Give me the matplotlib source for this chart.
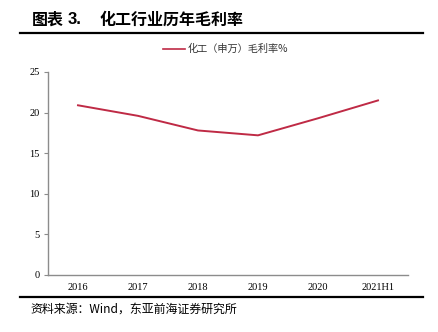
import matplotlib
matplotlib.use("Agg")
import matplotlib.pyplot as plt
from matplotlib.lines import Line2D

categories = ["2016", "2017", "2018", "2019", "2020", "2021H1"]
gross_margin = [20.9, 19.6, 17.8, 17.2, 19.3, 21.5]
y_ticks = [0, 5, 10, 15, 20, 25]
series_name = "化工（申万）毛利率%"
title_text = "化工行业历年毛利率"
source_text = "资料来源：Wind，东亚前海证券研究所"

CJK = ["Noto Sans CJK SC", "DejaVu Sans"]
SERIF = ["Liberation Serif", "DejaVu Serif"]

fig = plt.figure(figsize=(4.38, 3.32), dpi=100)
ax = fig.add_axes([48/438, 1-275/332, 360/438, 203/332])

x = list(range(len(categories)))
ax.plot(x, gross_margin, color="#bf2a45", lw=1.4)
ax.set_xlim(-0.5, len(categories) - 0.5)
ax.set_ylim(0, 25)
ax.set_yticks(y_ticks)
ax.set_xticks(x)
ax.set_xticklabels(categories, fontfamily=SERIF, fontsize=7.5)
ax.set_yticklabels([str(v) for v in y_ticks], fontfamily=SERIF, fontsize=7.5)
for s in ["top", "right"]:
    ax.spines[s].set_visible(False)
for s in ["left", "bottom"]:
    ax.spines[s].set_color("#8c8c8c")
    ax.spines[s].set_linewidth(1.0)
ax.tick_params(axis="y", length=3, width=0.8, color="#8c8c8c", pad=3)
ax.tick_params(axis="x", length=0, pad=6)

# Title
fig.text(32/438, 1-20/332, "图表", fontfamily=CJK, fontsize=11.5, fontweight="bold",
         va="center", ha="left")
fig.text(68/438, 1-20/332, "3.", fontfamily=["Liberation Sans"], fontsize=12, fontweight="bold",
         va="center", ha="left")
fig.text(100/438, 1-20/332, title_text, fontfamily=CJK, fontsize=11.5, fontweight="bold",
         va="center", ha="left")
fig.add_artist(Line2D([20/438, 423/438], [1-33/332, 1-33/332], color="black", lw=1.6,
                      transform=fig.transFigure))

# Legend
fig.add_artist(Line2D([163/438, 185/438], [1-49/332, 1-49/332], color="#bf2a45", lw=1.2,
                      transform=fig.transFigure))
fig.text(188/438, 1-49/332, series_name, fontfamily=CJK, fontsize=7.3, va="center", ha="left",
         color="#333333")

# Source
fig.add_artist(Line2D([20/438, 423/438], [1-297/332, 1-297/332], color="black", lw=1.6,
                      transform=fig.transFigure))
fig.text(30/438, 1-309/332, source_text, fontfamily=CJK, fontsize=8.6, va="center", ha="left")

fig.savefig("out.png", dpi=100)
